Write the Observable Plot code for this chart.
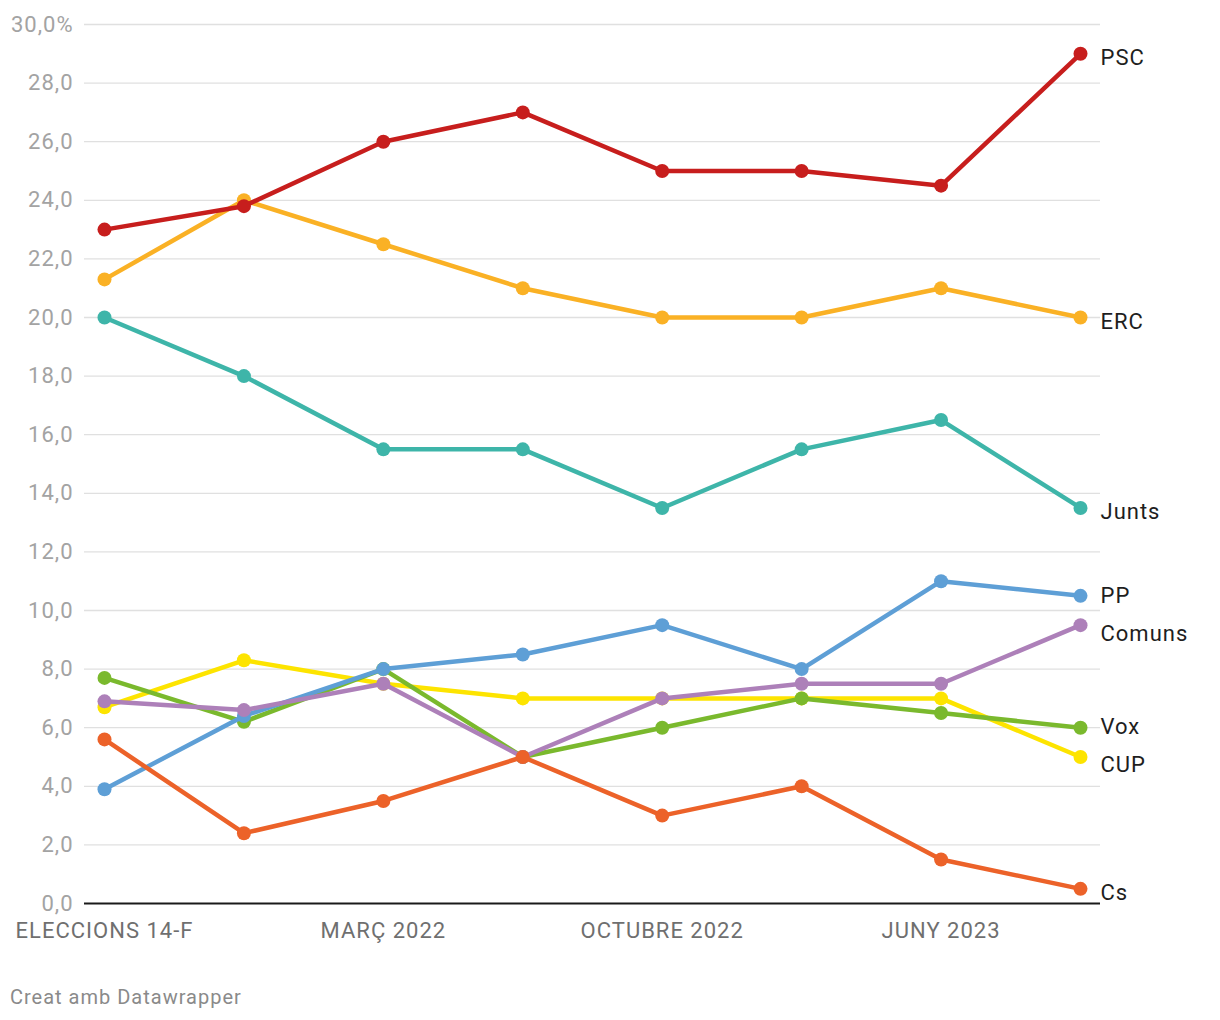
<!DOCTYPE html>
<html><head><meta charset="utf-8">
<script src="https://cdn.jsdelivr.net/npm/d3@7"></script>
<script src="https://cdn.jsdelivr.net/npm/@observablehq/plot@0.6"></script>
<style>
body{margin:0;background:#fff;font-family:Roboto,sans-serif}
#credit{position:absolute;left:10px;top:985px;font-size:20px;line-height:24px;letter-spacing:1px;color:#8a8a8a;font-family:Roboto,sans-serif}
</style></head>
<body><div id="chart"></div><div id="credit">Creat amb Datawrapper</div>
<script>
// survey waves (index) and axis labels
const waves = [0, 1, 2, 3, 4, 5, 6, 7];
const waveLabels = ["ELECCIONS 14-F", "", "MARÇ 2022", "", "OCTUBRE 2022", "", "JUNY 2023", ""];
const labeledWaves = [0, 2, 4, 6];

const parties = ["PSC", "ERC", "Junts", "PP", "Comuns", "Vox", "CUP", "Cs"];
const partyColors = ["#c71e1d", "#fab125", "#3eb5a9", "#5e9fd6", "#ad80b9", "#7ab92d", "#fde400", "#ec6229"];

const PSC    = [23.0, 23.8, 26.0, 27.0, 25.0, 25.0, 24.5, 29.0];
const ERC    = [21.3, 24.0, 22.5, 21.0, 20.0, 20.0, 21.0, 20.0];
const Junts  = [20.0, 18.0, 15.5, 15.5, 13.5, 15.5, 16.5, 13.5];
const PP     = [3.9, 6.4, 8.0, 8.5, 9.5, 8.0, 11.0, 10.5];
const Comuns = [6.9, 6.6, 7.5, 5.0, 7.0, 7.5, 7.5, 9.5];
const Vox    = [7.7, 6.2, 8.0, 5.0, 6.0, 7.0, 6.5, 6.0];
const CUP    = [6.7, 8.3, 7.5, 7.0, 7.0, 7.0, 7.0, 5.0];
const Cs     = [5.6, 2.4, 3.5, 5.0, 3.0, 4.0, 1.5, 0.5];

const yTicks = [0, 2, 4, 6, 8, 10, 12, 14, 16, 18, 20, 22, 24, 26, 28, 30];
const drawOrder = ["CUP", "Vox", "PP", "Comuns", "Cs", "Junts", "ERC", "PSC"];

const series = {PSC, ERC, Junts, PP, Comuns, Vox, CUP, Cs};
const rows = drawOrder.flatMap(p => waves.map((w, i) => ({party: p, wave: w, value: series[p][i]})));

// end labels with simple symmetric dodge (in data units)
const height = 960, marginTop = 24, marginBottom = 57;
const minGap = 38 * 30 / (height - marginTop - marginBottom);
const labels = parties.map(p => ({party: p, v: series[p][series[p].length - 1]}))
  .sort((a, b) => b.v - a.v);
labels.forEach(d => d.ly = d.v);
for (let iter = 0; iter < 50; iter++) {
  for (let i = 0; i < labels.length - 1; i++) {
    const a = labels[i], b = labels[i + 1];
    const gap = a.ly - b.ly;
    if (gap < minGap) {
      const push = (minGap - gap) / 2;
      a.ly += push; b.ly -= push;
    }
  }
}

const chart = Plot.plot({
  width: 1220,
  height,
  marginTop,
  marginBottom,
  marginLeft: 84,
  marginRight: 120,
  style: {fontFamily: "Roboto, sans-serif", background: "#fff", overflow: "visible", letterSpacing: "1px"},
  x: {domain: [0, 7], inset: 20, axis: null, label: null},
  y: {domain: [0, 30], axis: null, label: null},
  color: {domain: parties, range: partyColors},
  marks: [
    Plot.gridY(yTicks.filter(d => d > 0), {stroke: "#e0e0e0", strokeOpacity: 1, strokeWidth: 1.3}),
    Plot.axisY(yTicks, {
      tickSize: 0, tickPadding: 11, fontSize: 22, fill: "#a3a3a3", label: null,
      tickFormat: d => d.toFixed(1).replace(".", ",") + (d === 30 ? "%" : "")
    }),
    Plot.axisX(labeledWaves, {
      tickSize: 0, tickPadding: 19, fontSize: 22, fill: "#6f6f6f", label: null,
      tickFormat: i => waveLabels[i]
    }),
    Plot.ruleY([0], {stroke: "#1a1a1a", strokeWidth: 2}),
    ...drawOrder.flatMap(p => [
      Plot.line(rows.filter(r => r.party === p), {x: "wave", y: "value", stroke: "party", strokeWidth: 4.5, strokeLinejoin: "round", strokeLinecap: "round"}),
      Plot.dot(rows.filter(r => r.party === p), {x: "wave", y: "value", fill: "party", r: 7, stroke: "none"})
    ]),
    Plot.text(labels, {x: () => 7, y: "ly", text: "party", dx: 20, dy: 4, textAnchor: "start", fontSize: 22, fill: "#1e1e1e"})
  ]
});
document.getElementById("chart").append(chart);
</script>
</body></html>
